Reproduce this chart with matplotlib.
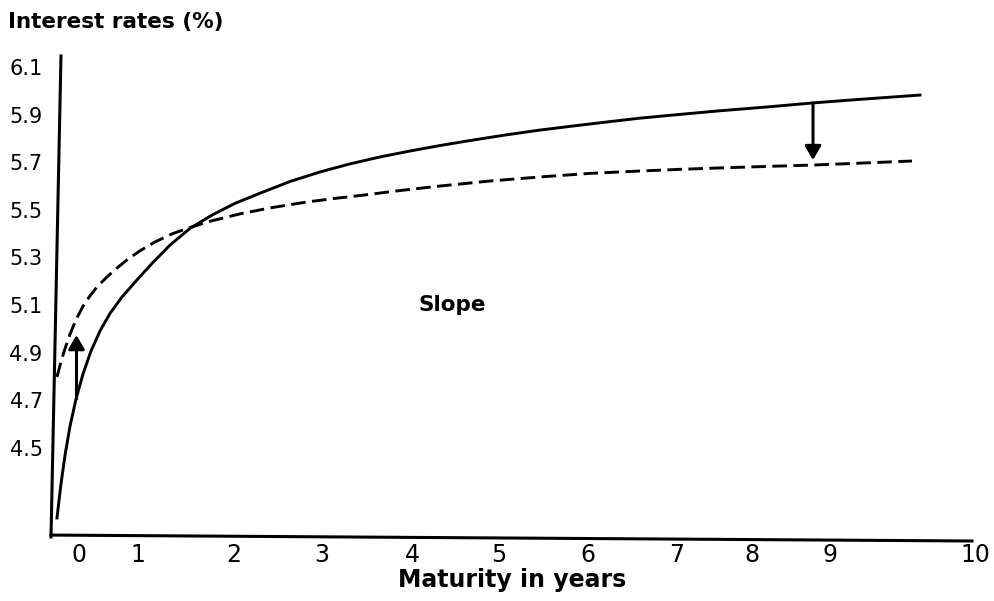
import matplotlib
matplotlib.use("Agg")
import matplotlib.pyplot as plt

plt.rcParams['font.family'] = ['DejaVu Sans']

# curves (maturity, rate %)
solid_x = [-0.246, -0.201, -0.156, -0.100, -0.033, 0.045, 0.134, 0.234, 0.346,
           0.480, 0.636, 0.815, 1.016, 1.239, 1.484, 1.752, 2.042, 2.355, 2.690,
           3.025, 3.359, 3.694, 4.029, 4.397, 4.754, 5.145, 5.536, 5.893, 6.261,
           6.629, 7.154, 7.712, 8.192, 8.717, 9.386]
solid_y = [4.206, 4.349, 4.470, 4.592, 4.706, 4.811, 4.907, 4.991, 5.065,
           5.134, 5.201, 5.275, 5.352, 5.422, 5.478, 5.529, 5.573, 5.619, 5.659,
           5.693, 5.722, 5.747, 5.770, 5.793, 5.814, 5.835, 5.853, 5.869, 5.885,
           5.898, 5.916, 5.933, 5.949, 5.964, 5.982]

dashed_x = [-0.246, -0.201, -0.156, -0.100, -0.033, 0.045, 0.123, 0.212, 0.3125,
            0.435, 0.547, 0.681, 0.848, 1.038, 1.239, 1.462, 1.797, 2.132, 2.545,
            2.857, 3.136, 3.583, 4.029, 4.587, 5.145, 5.703, 6.261, 6.708, 7.154,
            7.656, 8.192, 8.717, 9.297]
dashed_y = [4.798, 4.862, 4.917, 4.978, 5.039, 5.095, 5.139, 5.181, 5.218,
            5.259, 5.293, 5.328, 5.365, 5.399, 5.426, 5.452, 5.483, 5.508, 5.533,
            5.548, 5.560, 5.581, 5.600, 5.621, 5.638, 5.653, 5.663, 5.670, 5.676,
            5.682, 5.688, 5.696, 5.705]

# arrows: (x, start y, end y)
arrow_up = (-0.028, 4.706, 4.974)
arrow_down = (8.192, 5.949, 5.709)

y_ticks = [6.1, 5.9, 5.7, 5.5, 5.3, 5.1, 4.9, 4.7, 4.5]
x_tick_pos = [0, 0.658, 1.730, 2.712, 3.717, 4.688, 5.681, 6.674, 7.511, 8.382, 10.0]
x_tick_labels = ['0', '1', '2', '3', '4', '5', '6', '7', '8', '9', '10']

fig = plt.figure(figsize=(9.95, 6.01), dpi=100)
ax = fig.add_axes([51 / 995, 1 - 537 / 601, 924 / 995, 481 / 601])

ax.plot(solid_x, solid_y, color='black', lw=2.1, solid_joinstyle='round')
ax.plot(dashed_x, dashed_y, color='black', lw=2.1, dashes=(5, 2.2))

for x, y0, y1 in (arrow_up, arrow_down):
    ax.annotate('', xy=(x, y1), xytext=(x, y0),
                arrowprops=dict(arrowstyle='-|>,head_length=0.6,head_width=0.35',
                                mutation_scale=14, lw=2.2, color='black',
                                shrinkA=0, shrinkB=0))

ax.text(4.163, 5.1, 'Slope', fontsize=15.5, fontweight='bold', ha='center', va='center')

ax.set_xlim(-0.3125, 10.0)
ax.set_ylim(4.126, 6.146)
ax.set_yticks(y_ticks)
ax.set_yticklabels([f'{v:.1f}' for v in y_ticks])
ax.set_xticks(x_tick_pos)
ax.set_xticklabels(x_tick_labels)
ax.tick_params(axis='y', length=0, pad=6, labelsize=15)
ax.tick_params(axis='x', length=0, pad=4, labelsize=17)
for s in ax.spines.values():
    s.set_visible(False)

# hand drawn looking axis lines
ax.plot([0.0108, 0], [1.0, 0], transform=ax.transAxes, color='black', lw=2.2, clip_on=False)
ax.plot([0, 0.9968], [0.004, -0.0083], transform=ax.transAxes, color='black', lw=2.2, clip_on=False)

fig.text(8 / 995, 1 - 22 / 601, 'Interest rates (%)', fontsize=15.5, fontweight='bold',
         ha='left', va='center')
fig.text(512 / 995, 1 - 580 / 601, 'Maturity in years', fontsize=17, fontweight='bold',
         ha='center', va='center')

fig.savefig('out.png', dpi=100)
